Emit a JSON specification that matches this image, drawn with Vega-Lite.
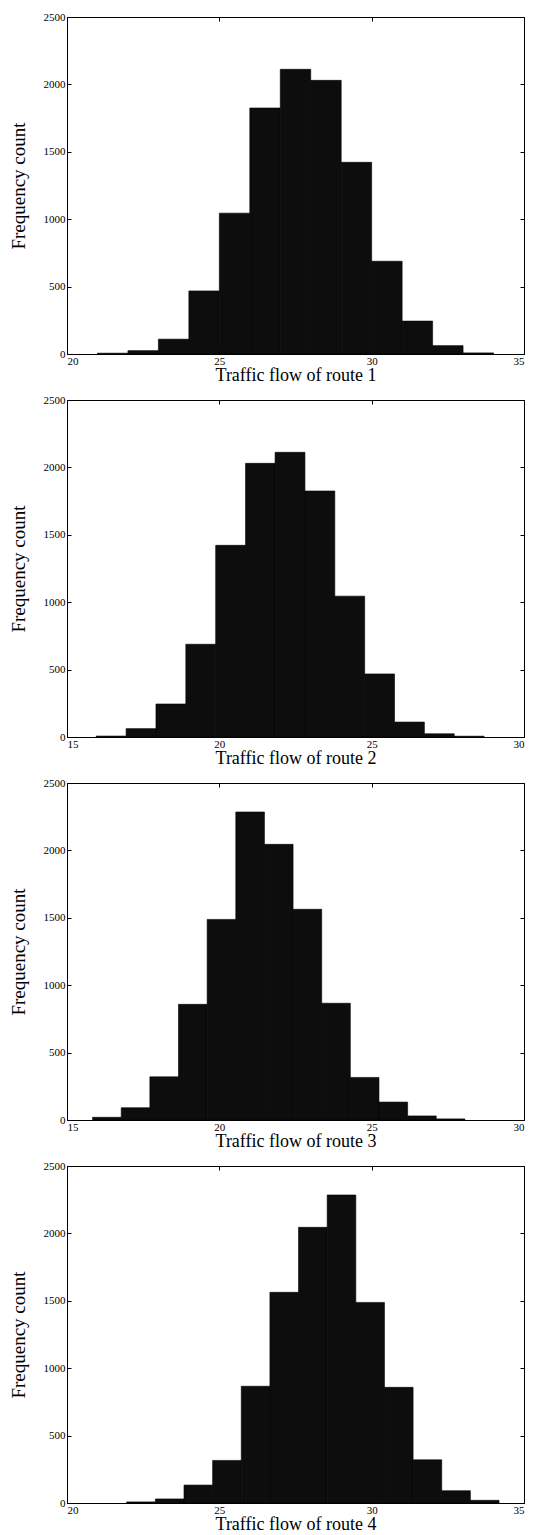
{
  "$schema": "https://vega.github.io/schema/vega-lite/v6.json",
  "padding": {"top": 10, "left": 8, "right": 0, "bottom": 0},
  "background": "white",
  "config": {
    "font": "Liberation Serif",
    "view": {"stroke": "black", "strokeWidth": 1},
    "axis": {
      "labelFont": "Liberation Serif",
      "titleFont": "Liberation Serif",
      "labelFontSize": 11,
      "titleFontSize": 18,
      "titleFontWeight": "normal",
      "labelColor": "black",
      "titleColor": "black",
      "domainColor": "black",
      "tickColor": "black",
      "grid": false,
      "tickSize": -4,
      "domainWidth": 1,
      "format": "d"
    }
  },
  "spacing": 8,
  "datasets": {
    "bins": [
      {"route": 1, "x0": 21, "x1": 22, "count": 6},
      {"route": 1, "x0": 22, "x1": 23, "count": 25},
      {"route": 1, "x0": 23, "x1": 24, "count": 110},
      {"route": 1, "x0": 24, "x1": 25, "count": 468},
      {"route": 1, "x0": 25, "x1": 26, "count": 1045},
      {"route": 1, "x0": 26, "x1": 27, "count": 1825},
      {"route": 1, "x0": 27, "x1": 28, "count": 2112},
      {"route": 1, "x0": 28, "x1": 29, "count": 2030},
      {"route": 1, "x0": 29, "x1": 30, "count": 1422},
      {"route": 1, "x0": 30, "x1": 31, "count": 688},
      {"route": 1, "x0": 31, "x1": 32, "count": 244},
      {"route": 1, "x0": 32, "x1": 33, "count": 62},
      {"route": 1, "x0": 33, "x1": 34, "count": 8},

      {"route": 2, "x0": 15.96, "x1": 16.94, "count": 7},
      {"route": 2, "x0": 16.94, "x1": 17.92, "count": 62},
      {"route": 2, "x0": 17.92, "x1": 18.90, "count": 245},
      {"route": 2, "x0": 18.90, "x1": 19.88, "count": 688},
      {"route": 2, "x0": 19.88, "x1": 20.86, "count": 1422},
      {"route": 2, "x0": 20.86, "x1": 21.83, "count": 2030},
      {"route": 2, "x0": 21.83, "x1": 22.81, "count": 2112},
      {"route": 2, "x0": 22.81, "x1": 23.79, "count": 1825},
      {"route": 2, "x0": 23.79, "x1": 24.77, "count": 1045},
      {"route": 2, "x0": 24.77, "x1": 25.75, "count": 468},
      {"route": 2, "x0": 25.75, "x1": 26.73, "count": 111},
      {"route": 2, "x0": 26.73, "x1": 27.71, "count": 24},
      {"route": 2, "x0": 27.71, "x1": 28.69, "count": 6},

      {"route": 3, "x0": 15.84, "x1": 16.78, "count": 20},
      {"route": 3, "x0": 16.78, "x1": 17.72, "count": 91},
      {"route": 3, "x0": 17.72, "x1": 18.66, "count": 320},
      {"route": 3, "x0": 18.66, "x1": 19.60, "count": 858},
      {"route": 3, "x0": 19.60, "x1": 20.54, "count": 1488},
      {"route": 3, "x0": 20.54, "x1": 21.48, "count": 2285},
      {"route": 3, "x0": 21.48, "x1": 22.42, "count": 2045},
      {"route": 3, "x0": 22.42, "x1": 23.36, "count": 1563},
      {"route": 3, "x0": 23.36, "x1": 24.30, "count": 866},
      {"route": 3, "x0": 24.30, "x1": 25.24, "count": 316},
      {"route": 3, "x0": 25.24, "x1": 26.18, "count": 133},
      {"route": 3, "x0": 26.18, "x1": 27.12, "count": 30},
      {"route": 3, "x0": 27.12, "x1": 28.06, "count": 8},

      {"route": 4, "x0": 21.96, "x1": 22.90, "count": 8},
      {"route": 4, "x0": 22.90, "x1": 23.84, "count": 30},
      {"route": 4, "x0": 23.84, "x1": 24.78, "count": 133},
      {"route": 4, "x0": 24.78, "x1": 25.72, "count": 316},
      {"route": 4, "x0": 25.72, "x1": 26.66, "count": 866},
      {"route": 4, "x0": 26.66, "x1": 27.60, "count": 1563},
      {"route": 4, "x0": 27.60, "x1": 28.54, "count": 2045},
      {"route": 4, "x0": 28.54, "x1": 29.48, "count": 2285},
      {"route": 4, "x0": 29.48, "x1": 30.42, "count": 1488},
      {"route": 4, "x0": 30.42, "x1": 31.36, "count": 858},
      {"route": 4, "x0": 31.36, "x1": 32.30, "count": 320},
      {"route": 4, "x0": 32.30, "x1": 33.24, "count": 91},
      {"route": 4, "x0": 33.24, "x1": 34.18, "count": 20}
    ]
  },
  "vconcat": [
    {
      "width": 457, "height": 337,
      "data": {"name": "bins"},
      "transform": [{"filter": "datum.route == 1"}],
      "layer": [
        {
          "mark": {"type": "bar", "color": "#0d0d0d", "stroke": "#000000", "strokeWidth": 0.6},
          "encoding": {
            "x": {"field": "x0", "type": "quantitative", "scale": {"domain": [20, 35], "nice": false, "zero": false},
                  "axis": {"values": [20, 25, 30, 35], "title": "Traffic flow of route 1", "labelPadding": 5, "titlePadding": 0}},
            "x2": {"field": "x1"},
            "y": {"field": "count", "type": "quantitative", "scale": {"domain": [0, 2500], "nice": false},
                  "axis": {"values": [0, 500, 1000, 1500, 2000, 2500], "title": "Frequency count", "labelPadding": 6, "titlePadding": 15, "titleFontSize": 19}},
            "y2": {"datum": 0}
          }
        },
        {
          "mark": {"type": "bar", "opacity": 0},
          "encoding": {
            "x": {"field": "x0", "type": "quantitative", "axis": {"orient": "top", "values": [20, 25, 30, 35], "labels": false, "title": null, "domain": false}},
            "x2": {"field": "x1"},
            "y": {"field": "count", "type": "quantitative", "axis": {"orient": "right", "values": [0, 500, 1000, 1500, 2000, 2500], "labels": false, "title": null, "domain": false}},
            "y2": {"datum": 0}
          }
        }
      ],
      "resolve": {"axis": {"x": "independent", "y": "independent"}}
    },
    {
      "width": 457, "height": 337,
      "data": {"name": "bins"},
      "transform": [{"filter": "datum.route == 2"}],
      "layer": [
        {
          "mark": {"type": "bar", "color": "#0d0d0d", "stroke": "#000000", "strokeWidth": 0.6},
          "encoding": {
            "x": {"field": "x0", "type": "quantitative", "scale": {"domain": [15, 30], "nice": false, "zero": false},
                  "axis": {"values": [15, 20, 25, 30], "title": "Traffic flow of route 2", "labelPadding": 5, "titlePadding": 0}},
            "x2": {"field": "x1"},
            "y": {"field": "count", "type": "quantitative", "scale": {"domain": [0, 2500], "nice": false},
                  "axis": {"values": [0, 500, 1000, 1500, 2000, 2500], "title": "Frequency count", "labelPadding": 6, "titlePadding": 15, "titleFontSize": 19}},
            "y2": {"datum": 0}
          }
        },
        {
          "mark": {"type": "bar", "opacity": 0},
          "encoding": {
            "x": {"field": "x0", "type": "quantitative", "axis": {"orient": "top", "values": [15, 20, 25, 30], "labels": false, "title": null, "domain": false}},
            "x2": {"field": "x1"},
            "y": {"field": "count", "type": "quantitative", "axis": {"orient": "right", "values": [0, 500, 1000, 1500, 2000, 2500], "labels": false, "title": null, "domain": false}},
            "y2": {"datum": 0}
          }
        }
      ],
      "resolve": {"axis": {"x": "independent", "y": "independent"}}
    },
    {
      "width": 457, "height": 337,
      "data": {"name": "bins"},
      "transform": [{"filter": "datum.route == 3"}],
      "layer": [
        {
          "mark": {"type": "bar", "color": "#0d0d0d", "stroke": "#000000", "strokeWidth": 0.6},
          "encoding": {
            "x": {"field": "x0", "type": "quantitative", "scale": {"domain": [15, 30], "nice": false, "zero": false},
                  "axis": {"values": [15, 20, 25, 30], "title": "Traffic flow of route 3", "labelPadding": 5, "titlePadding": 0}},
            "x2": {"field": "x1"},
            "y": {"field": "count", "type": "quantitative", "scale": {"domain": [0, 2500], "nice": false},
                  "axis": {"values": [0, 500, 1000, 1500, 2000, 2500], "title": "Frequency count", "labelPadding": 6, "titlePadding": 15, "titleFontSize": 19}},
            "y2": {"datum": 0}
          }
        },
        {
          "mark": {"type": "bar", "opacity": 0},
          "encoding": {
            "x": {"field": "x0", "type": "quantitative", "axis": {"orient": "top", "values": [15, 20, 25, 30], "labels": false, "title": null, "domain": false}},
            "x2": {"field": "x1"},
            "y": {"field": "count", "type": "quantitative", "axis": {"orient": "right", "values": [0, 500, 1000, 1500, 2000, 2500], "labels": false, "title": null, "domain": false}},
            "y2": {"datum": 0}
          }
        }
      ],
      "resolve": {"axis": {"x": "independent", "y": "independent"}}
    },
    {
      "width": 457, "height": 337,
      "data": {"name": "bins"},
      "transform": [{"filter": "datum.route == 4"}],
      "layer": [
        {
          "mark": {"type": "bar", "color": "#0d0d0d", "stroke": "#000000", "strokeWidth": 0.6},
          "encoding": {
            "x": {"field": "x0", "type": "quantitative", "scale": {"domain": [20, 35], "nice": false, "zero": false},
                  "axis": {"values": [20, 25, 30, 35], "title": "Traffic flow of route 4", "labelPadding": 5, "titlePadding": 0}},
            "x2": {"field": "x1"},
            "y": {"field": "count", "type": "quantitative", "scale": {"domain": [0, 2500], "nice": false},
                  "axis": {"values": [0, 500, 1000, 1500, 2000, 2500], "title": "Frequency count", "labelPadding": 6, "titlePadding": 15, "titleFontSize": 19}},
            "y2": {"datum": 0}
          }
        },
        {
          "mark": {"type": "bar", "opacity": 0},
          "encoding": {
            "x": {"field": "x0", "type": "quantitative", "axis": {"orient": "top", "values": [20, 25, 30, 35], "labels": false, "title": null, "domain": false}},
            "x2": {"field": "x1"},
            "y": {"field": "count", "type": "quantitative", "axis": {"orient": "right", "values": [0, 500, 1000, 1500, 2000, 2500], "labels": false, "title": null, "domain": false}},
            "y2": {"datum": 0}
          }
        }
      ],
      "resolve": {"axis": {"x": "independent", "y": "independent"}}
    }
  ]
}
